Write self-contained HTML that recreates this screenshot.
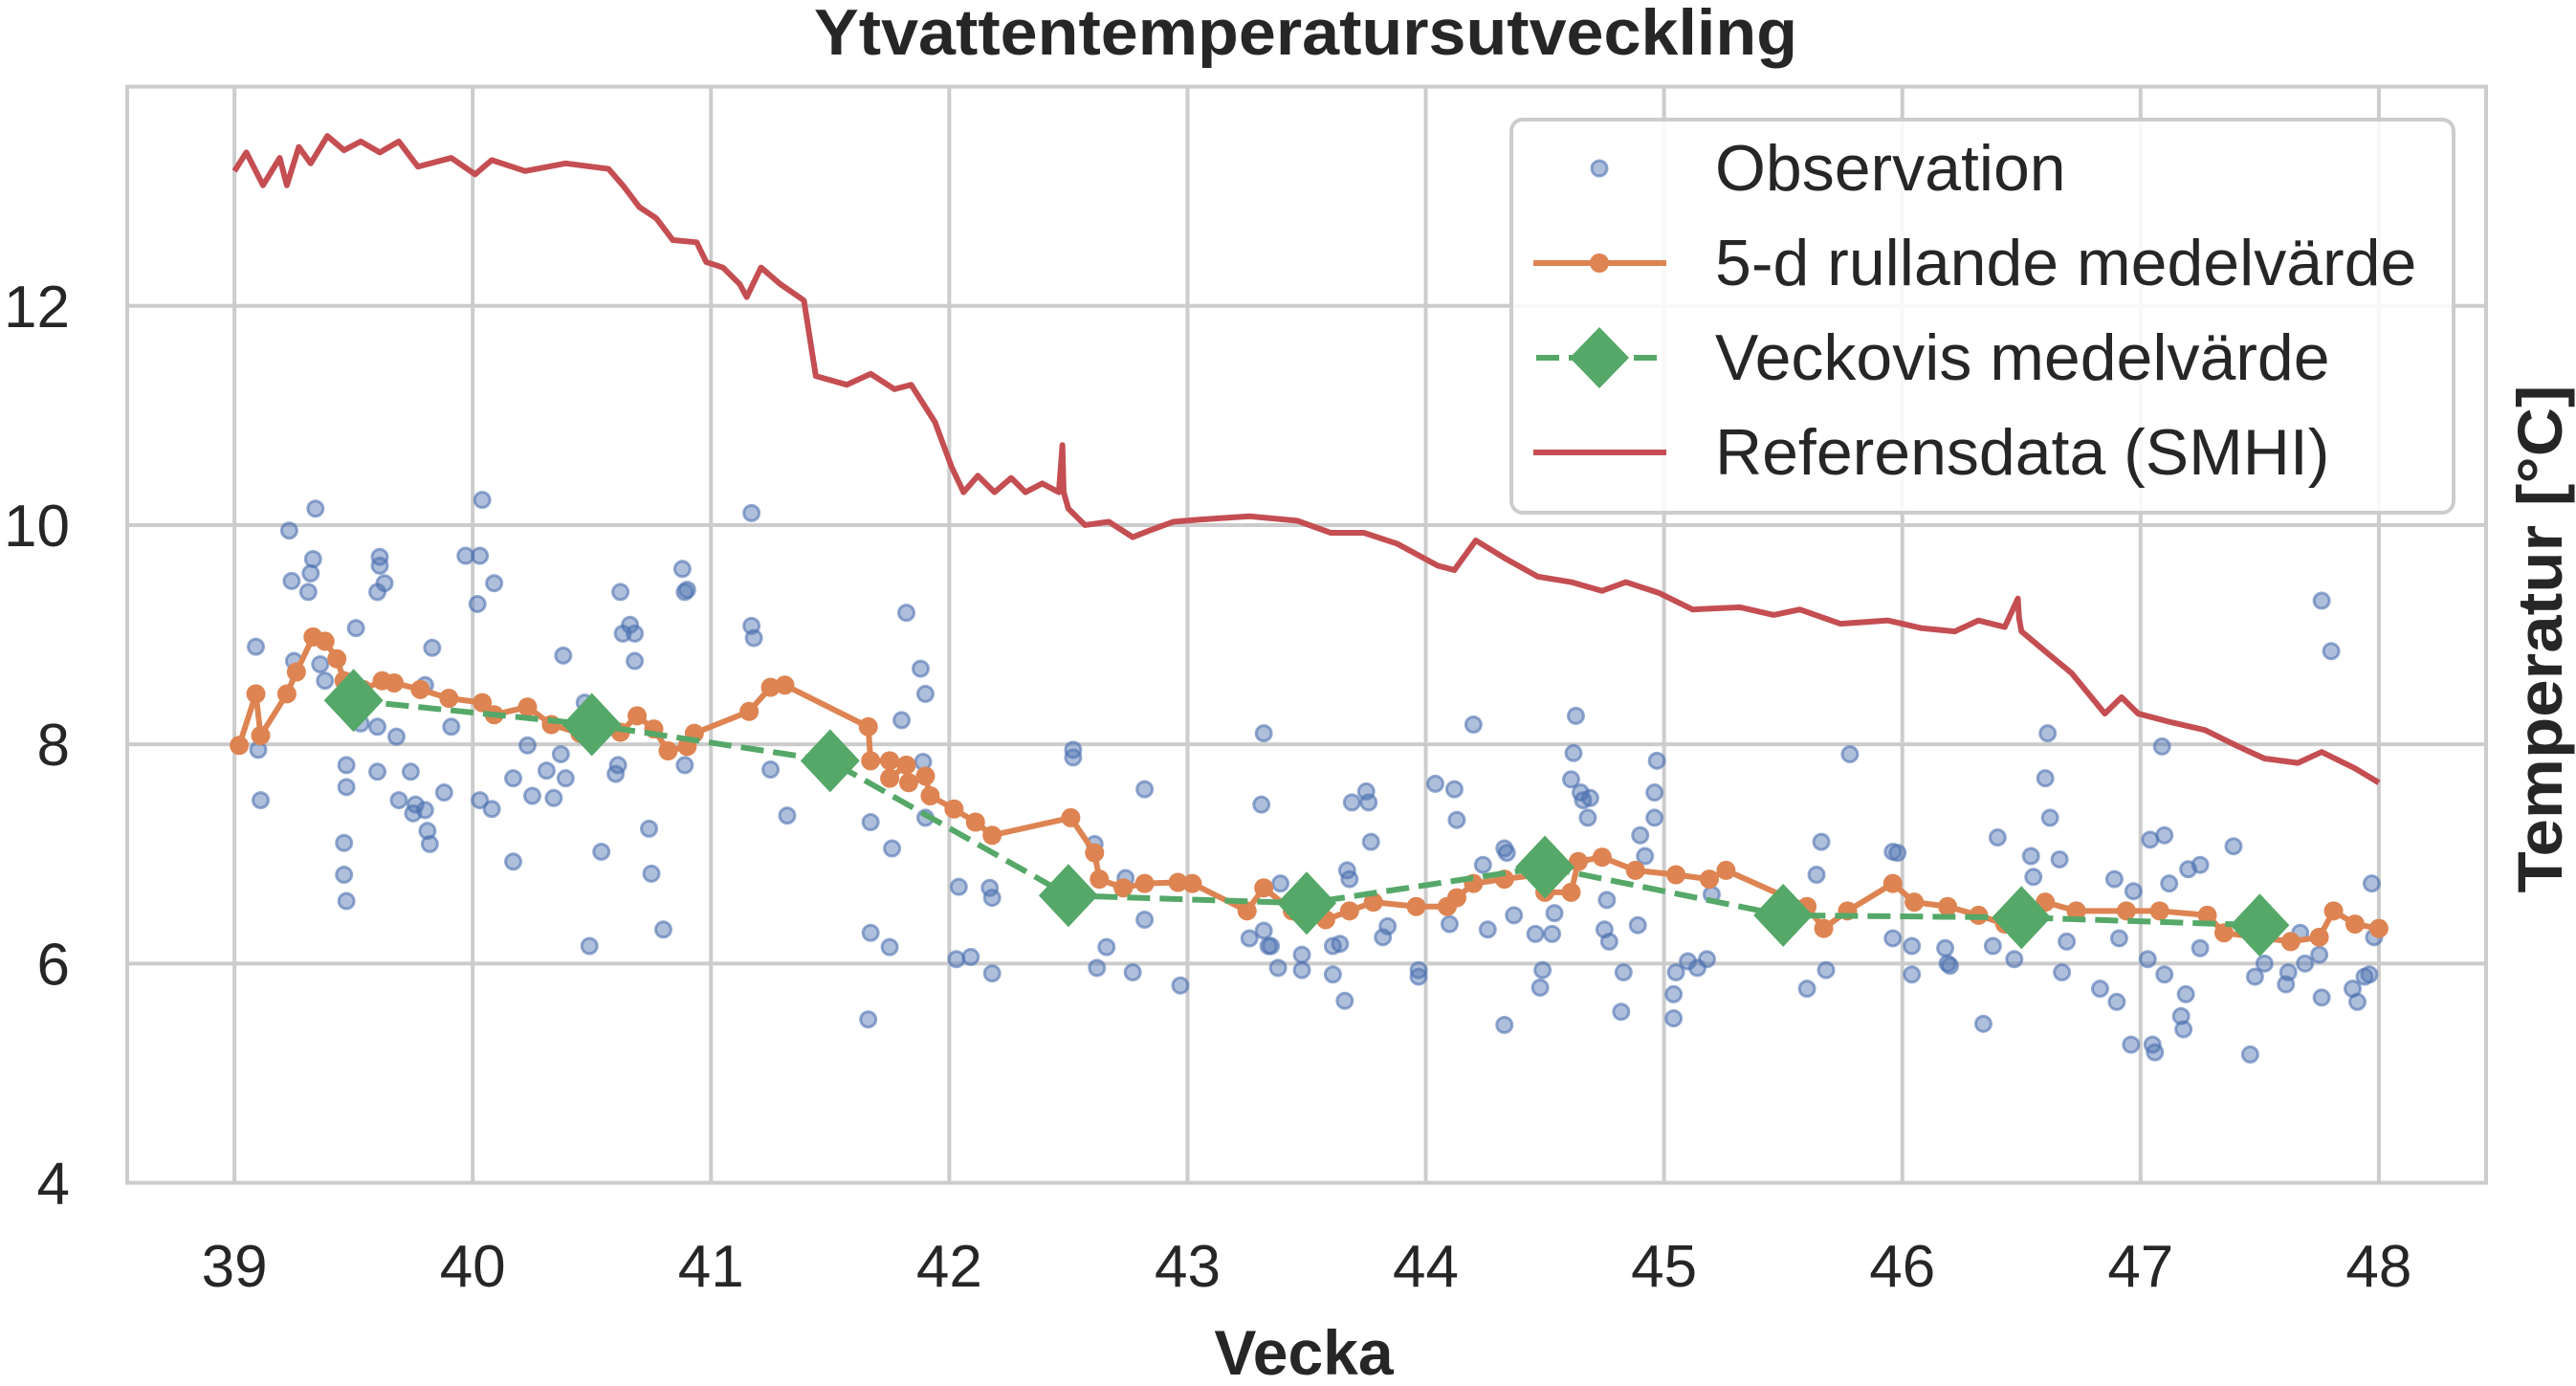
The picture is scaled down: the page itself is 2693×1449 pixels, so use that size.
<!DOCTYPE html>
<html><head><meta charset="utf-8"><style>
html,body{margin:0;padding:0;background:#fff;}
svg{display:block;font-family:"Liberation Sans",sans-serif;}
</style></head><body>
<svg id="chart" width="2693" height="1449" viewBox="0 0 2693 1449">
<text x="1365" y="57" text-anchor="middle" font-size="68" font-weight="bold" fill="#262626" textLength="1028" lengthAdjust="spacingAndGlyphs">Ytvattentemperatursutveckling</text>
<g id="grid"></g>
<g id="ticks"></g>
<g id="series"></g>
<rect x="133" y="90.6" width="2466" height="1146" fill="none" stroke="#cccccc" stroke-width="4"/>
<text x="1363" y="1437" text-anchor="middle" font-size="66" font-weight="bold" fill="#262626">Vecka</text>
<text transform="translate(2678,668) rotate(-90)" text-anchor="middle" font-size="66" font-weight="bold" fill="#262626" textLength="531" lengthAdjust="spacingAndGlyphs">Temperatur [°C]</text>
<g id="legend">
<rect x="1580" y="125" width="985" height="411" rx="12" fill="rgba(255,255,255,0.85)" stroke="#cccccc" stroke-width="4"/>
<g>
<circle cx="1672" cy="176" r="8" fill="rgba(76,114,176,0.45)" stroke="rgba(76,114,176,0.6)" stroke-width="3"/>
<text x="1793" y="199" font-size="68" fill="#262626">Observation</text></g>
<g>
<line x1="1603" y1="275" x2="1742" y2="275" stroke="#dd8452" stroke-width="6"/>
<circle cx="1672" cy="275" r="10" fill="#dd8452"/>
<text x="1793" y="298" font-size="68" fill="#262626">5-d rullande medelvärde</text></g>
<g>
<line x1="1606" y1="374" x2="1742" y2="374" stroke="#55a868" stroke-width="6" stroke-dasharray="24,10"/>
<polygon points="1672,342 1703,374 1672,406 1641,374" fill="#55a868"/>
<text x="1793" y="397" font-size="68" fill="#262626">Veckovis medelvärde</text></g>
<g>
<line x1="1603" y1="473" x2="1742" y2="473" stroke="#c44e52" stroke-width="6"/>
<text x="1793" y="496" font-size="68" fill="#262626">Referensdata (SMHI)</text></g>
</g>
</svg>
<script>
const xTicks=[39,40,41,42,43,44,45,46,47,48];
const yTicks=[4,6,8,10,12];
const weekX=[39.5,40.5,41.5,42.5,43.5,44.5,45.5,46.5,47.5];
const weekY=[8.4,8.18,7.85,6.62,6.55,6.88,6.44,6.42,6.35];
const rollX=[39.02,39.09,39.11,39.22,39.26,39.33,39.38,39.43,39.46,39.54,39.62,39.67,39.78,39.9,40.04,40.09,40.23,40.33,40.45,40.52,40.62,40.69,40.76,40.82,40.9,40.93,41.16,41.25,41.31,41.66,41.67,41.75,41.75,41.82,41.83,41.9,41.92,42.02,42.11,42.18,42.51,42.61,42.63,42.73,42.82,42.96,43.02,43.25,43.32,43.44,43.58,43.68,43.78,43.96,44.09,44.13,44.2,44.33,44.47,44.5,44.61,44.64,44.74,44.88,45.05,45.19,45.26,45.6,45.67,45.77,45.96,46.05,46.19,46.32,46.43,46.6,46.73,46.94,47.08,47.28,47.35,47.63,47.75,47.81,47.9,48];
const rollY=[7.99,8.46,8.08,8.46,8.66,8.98,8.94,8.78,8.58,8.5,8.58,8.56,8.5,8.42,8.38,8.27,8.34,8.18,8.1,8.19,8.11,8.26,8.14,7.94,7.98,8.1,8.3,8.52,8.54,8.16,7.85,7.85,7.69,7.81,7.65,7.71,7.53,7.41,7.29,7.17,7.33,7.01,6.77,6.69,6.73,6.74,6.73,6.48,6.69,6.48,6.4,6.48,6.56,6.52,6.52,6.6,6.73,6.77,6.81,6.65,6.65,6.93,6.97,6.85,6.81,6.77,6.85,6.52,6.32,6.48,6.73,6.56,6.52,6.44,6.36,6.56,6.48,6.48,6.48,6.44,6.28,6.2,6.24,6.48,6.36,6.32];
const refX=[39.0,39.05,39.12,39.19,39.22,39.27,39.32,39.39,39.46,39.53,39.61,39.69,39.77,39.91,40.01,40.08,40.22,40.39,40.57,40.63,40.7,40.77,40.84,40.94,40.98,41.05,41.12,41.15,41.21,41.29,41.39,41.44,41.57,41.67,41.77,41.84,41.94,42.01,42.06,42.12,42.19,42.26,42.32,42.39,42.46,42.475,42.48,42.5,42.57,42.67,42.77,42.84,42.94,43.05,43.26,43.46,43.6,43.74,43.88,44.05,44.12,44.21,44.33,44.47,44.61,44.74,44.84,44.98,45.12,45.32,45.46,45.57,45.74,45.94,46.08,46.22,46.32,46.43,46.485,46.49,46.5,46.61,46.71,46.85,46.92,46.99,47.13,47.27,47.41,47.52,47.66,47.76,47.9,48.0];
const refY=[13.23,13.4,13.1,13.35,13.1,13.45,13.3,13.55,13.42,13.5,13.4,13.5,13.27,13.35,13.2,13.33,13.23,13.3,13.25,13.1,12.9,12.8,12.6,12.58,12.4,12.35,12.2,12.08,12.35,12.2,12.05,11.36,11.28,11.38,11.24,11.28,10.94,10.53,10.3,10.45,10.3,10.43,10.3,10.38,10.3,10.73,10.3,10.15,10.0,10.03,9.89,9.95,10.03,10.05,10.08,10.04,9.93,9.93,9.83,9.63,9.59,9.86,9.7,9.53,9.48,9.4,9.48,9.38,9.23,9.25,9.18,9.23,9.1,9.13,9.06,9.03,9.13,9.07,9.33,9.15,9.03,8.83,8.65,8.28,8.43,8.28,8.2,8.13,7.98,7.87,7.83,7.93,7.78,7.65];
const obsX=[39.09,39.10,39.11,39.23,39.24,39.25,39.31,39.32,39.33,39.34,39.36,39.38,39.47,39.47,39.46,39.46,39.47,39.51,39.53,39.60,39.61,39.61,39.63,39.60,39.60,39.68,39.69,39.74,39.76,39.75,39.80,39.81,39.82,39.83,39.80,39.88,39.91,39.97,40.03,40.02,40.04,40.09,40.03,40.08,40.17,40.17,40.23,40.25,40.31,40.34,40.38,40.37,40.39,40.47,40.49,40.54,40.60,40.61,40.62,40.63,40.66,40.68,40.68,40.74,40.75,40.80,40.88,40.89,40.90,40.89,41.17,41.17,41.18,41.25,41.32,41.67,41.67,41.66,41.75,41.76,41.80,41.82,41.88,41.90,41.89,41.90,42.04,42.03,42.09,42.17,42.18,42.18,42.52,42.52,42.61,42.66,42.62,42.77,42.82,42.82,42.74,42.97,43.31,43.32,43.26,43.32,43.35,43.38,43.39,43.34,
43.48,43.48,43.61,43.61,43.64,43.66,43.67,43.68,43.69,43.75,43.76,43.77,43.82,43.84,43.97,43.97,44.04,44.12,44.13,44.10,44.20,44.24,44.26,44.33,44.34,44.33,44.37,44.46,44.49,44.48,44.53,44.54,44.61,44.62,44.63,44.65,44.66,44.68,44.69,44.76,44.75,44.77,44.82,44.83,44.89,44.90,44.92,44.96,44.96,44.97,45.04,45.04,45.05,45.10,45.14,45.18,45.20,45.60,45.64,45.66,45.68,45.78,45.96,45.98,45.96,46.04,46.04,46.18,46.19,46.20,46.34,46.38,46.40,46.47,46.54,46.55,46.60,46.61,46.62,46.66,46.67,46.69,46.83,46.89,46.90,46.91,46.96,46.97,47.03,47.04,47.05,47.06,47.09,47.10,47.10,47.12,47.19,47.17,47.18,47.20,47.25,47.25,47.39,47.46,47.48,47.52,47.61,47.62,47.67,47.69,47.75,47.76,47.76,47.80,47.89,47.91,47.94,47.96,47.97,47.98];
const obsY=[8.89,7.95,7.49,9.95,9.49,8.76,9.39,9.56,9.69,10.15,8.73,8.58,7.81,7.61,7.10,6.81,6.57,9.06,8.19,9.39,9.63,9.71,9.47,8.16,7.75,8.07,7.49,7.75,7.45,7.37,7.40,7.21,7.09,8.88,8.54,7.56,8.16,9.72,9.72,9.28,10.23,9.47,7.49,7.41,7.69,6.93,7.99,7.53,7.76,7.51,8.81,7.91,7.69,8.38,6.16,7.02,7.73,7.81,9.39,9.01,9.09,9.01,8.76,7.23,6.82,6.31,9.60,9.39,9.41,7.81,10.11,9.08,8.97,7.77,7.35,7.29,6.28,5.49,6.15,7.05,8.22,9.20,8.69,8.46,7.84,7.33,6.70,6.04,6.06,6.69,6.60,5.91,7.95,7.88,7.09,6.15,5.96,5.92,7.59,6.40,6.78,5.80,7.45,8.10,6.23,6.30,6.16,5.96,6.73,6.16,
6.08,5.94,5.90,6.16,6.18,5.66,6.85,6.77,7.47,7.57,7.47,7.11,6.24,6.34,5.94,5.88,7.64,7.59,7.31,6.36,8.18,6.90,6.31,7.05,7.01,5.44,6.44,6.27,5.94,5.78,6.27,6.46,7.68,7.92,8.26,7.56,7.49,7.33,7.51,6.58,6.31,6.20,5.56,5.92,6.35,7.17,6.98,7.56,7.33,7.85,5.72,5.50,5.92,6.02,5.96,6.04,6.63,5.77,6.81,7.11,5.94,7.91,7.02,7.01,6.23,6.16,5.90,6.14,6.00,5.98,5.45,6.16,7.15,6.04,6.98,6.79,7.69,8.10,7.33,6.95,5.92,6.20,5.77,6.77,5.65,6.23,5.26,6.66,6.04,7.13,5.26,5.19,7.98,7.17,5.90,6.73,5.72,5.52,5.40,6.86,6.14,6.90,7.07,5.17,5.88,6.00,5.81,5.92,6.28,6.00,6.08,5.69,9.31,8.85,5.77,5.65,5.88,5.90,6.73,6.24];

const NS='http://www.w3.org/2000/svg';
const X0=38.55,X1=48.45,Y0=4,Y1=14,PL=133,PR=2599,PT=90.6,PB=1236.5;
function sx(v){return PL+(v-X0)/(X1-X0)*(PR-PL);}
function sy(v){return PB-(v-Y0)/(Y1-Y0)*(PB-PT);}
function mk(tag,attrs,parent){const e=document.createElementNS(NS,tag);for(const k in attrs)e.setAttribute(k,attrs[k]);parent.appendChild(e);return e;}
const grid=document.getElementById('grid'),ticks=document.getElementById('ticks'),series=document.getElementById('series');
xTicks.forEach(t=>{
  const l=mk('line',{x1:sx(t),x2:sx(t),y1:PT,y2:PB,stroke:'#cccccc','stroke-width':4},grid);
  
  
  const tx=mk('text',{x:sx(t),y:1345,'text-anchor':'middle','font-size':62,fill:'#262626'},ticks);
  tx.textContent=t;
  
  
});
yTicks.forEach(t=>{
  const l=mk('line',{x1:PL,x2:PR,y1:sy(t),y2:sy(t),stroke:'#cccccc','stroke-width':4},grid);
  
  
  const tx=mk('text',{x:73,y:sy(t)+22,'text-anchor':'end','font-size':62,fill:'#262626'},ticks);
  tx.textContent=t;
  
  
});
// observations
const og=mk('g',{},series);


obsX.forEach((x,i)=>{
  const c=mk('circle',{cx:sx(x),cy:sy(obsY[i]),r:8,fill:'rgba(76,114,176,0.45)',stroke:'rgba(76,114,176,0.6)','stroke-width':3},og);
  
  
});
// reference
const rp=mk('polyline',{points:refX.map((x,i)=>sx(x)+','+sy(refY[i])).join(' '),fill:'none',stroke:'#c44e52','stroke-width':6,'stroke-linejoin':'round'},series);


// rolling
const rl=mk('polyline',{points:rollX.map((x,i)=>sx(x)+','+sy(rollY[i])).join(' '),fill:'none',stroke:'#dd8452','stroke-width':6,'stroke-linejoin':'round'},series);


rollX.forEach((x,i)=>{
  const c=mk('circle',{cx:sx(x),cy:sy(rollY[i]),r:10,fill:'#dd8452'},series);
  
  
});
// weekly
const wl=mk('polyline',{points:weekX.map((x,i)=>sx(x)+','+sy(weekY[i])).join(' '),fill:'none',stroke:'#55a868','stroke-width':6,'stroke-dasharray':'24,10'},series);


weekX.forEach((x,i)=>{
  const cx=sx(x),cy=sy(weekY[i]);
  const d=mk('polygon',{points:`${cx},${cy-33} ${cx+31},${cy} ${cx},${cy+33} ${cx-31},${cy}`,fill:'#55a868'},series);
  
  
});
</script>
</body></html>
